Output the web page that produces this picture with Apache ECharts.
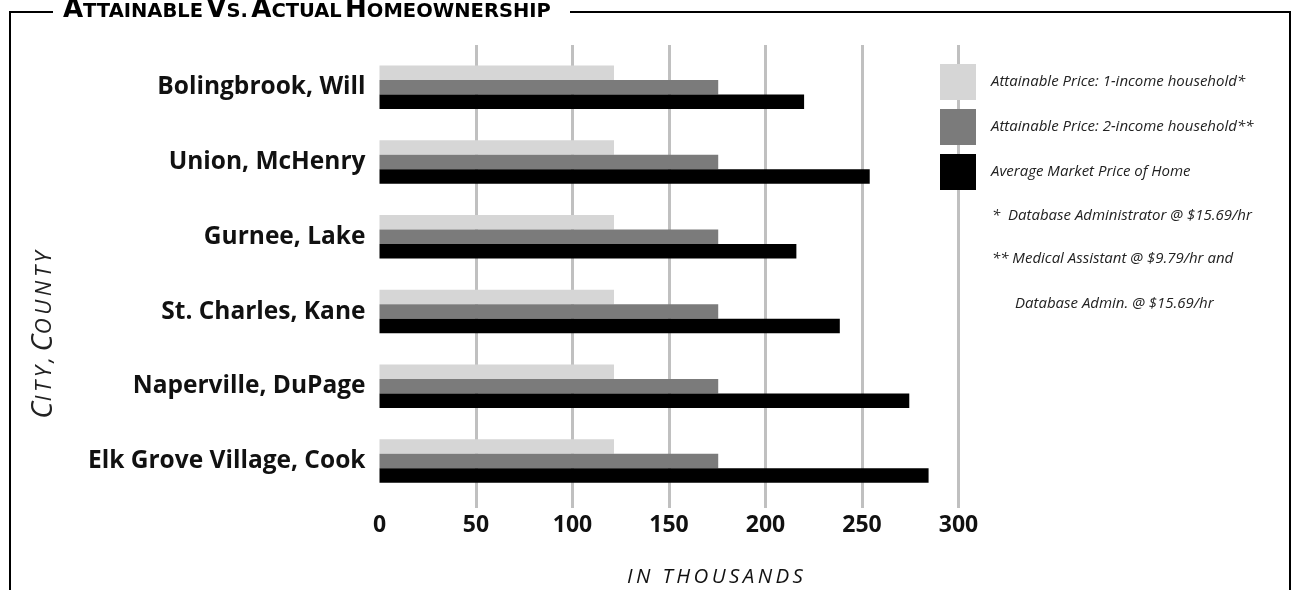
<!DOCTYPE html>
<html>
<head>
<meta charset="utf-8">
<script src="https://cdn.jsdelivr.net/npm/echarts@6/dist/echarts.min.js"></script>
<style>
html,body{margin:0;padding:0;background:#fff;}
#chart{width:1294px;height:590px;}
</style>
</head>
<body>
<div id="chart"></div>
<script>
// ---- data ----
const categories = ['Bolingbrook, Will', 'Union, McHenry', 'Gurnee, Lake', 'St. Charles, Kane', 'Naperville, DuPage', 'Elk Grove Village, Cook'];
const oneIncome = [121.5, 121.5, 121.5, 121.5, 121.5, 121.5];
const twoIncome = [175.5, 175.5, 175.5, 175.5, 175.5, 175.5];
const marketPrice = [220, 254, 216, 238.5, 274.5, 284.5];
const seriesNames = ['Attainable Price: 1-income household*', 'Attainable Price: 2-income household**', 'Average Market Price of Home'];
const axisMin = 0, axisMax = 300, axisStep = 50;
const footnotes = ['*  Database Administrator @ $15.69/hr', '** Medical Assistant @ $9.79/hr and', 'Database Admin. @ $15.69/hr'];

const FONT = 'Open Sans';
const TITLE_FONT = 'DejaVu Sans';
const colors = ['#d6d6d6', '#7b7b7b', '#000000'];
const chart = echarts.init(document.getElementById('chart'), null, {renderer: 'canvas'});

const T = '\u2009';
const option = {
  backgroundColor: '#fff',
  animation: false,
  grid: [
    {left: 379.5, right: 335.5, top: 45, bottom: 82, outerBoundsMode: 'none'},
    {left: 379.5, right: 335.5, top: 49.9, bottom: 91.5, outerBoundsMode: 'none'}
  ],
  xAxis: [
    {
      gridIndex: 0, type: 'value', min: axisMin, max: axisMax, interval: axisStep,
      axisLine: {show: false}, axisTick: {show: false},
      splitLine: {show: true, showMinLine: false, lineStyle: {color: '#c0c0c0', width: 3}},
      axisLabel: {margin: 6, color: '#111', fontFamily: FONT, fontWeight: 'bold', fontSize: 23},
      name: ['I','N',' ','T','H','O','U','S','A','N','D','S'].join(T),
      nameLocation: 'middle', nameGap: 59,
      nameTextStyle: {fontFamily: FONT, fontStyle: 'italic', fontSize: 20.5, color: '#111', padding: [0, 0, 0, 92]}
    },
    {gridIndex: 1, type: 'value', min: axisMin, max: axisMax, interval: axisStep, show: false}
  ],
  yAxis: [
    {gridIndex: 0, type: 'category', data: [''], show: false},
    {
      gridIndex: 1, type: 'category', data: categories, inverse: true,
      axisLine: {show: false}, axisTick: {show: false}, splitLine: {show: false},
      axisLabel: {margin: 14, color: '#111', fontFamily: FONT, fontWeight: 'bold', fontSize: 24.5}
    }
  ],
  legend: {
    orient: 'vertical', left: 940, top: 64, padding: 0,
    itemWidth: 36, itemHeight: 36, itemGap: 9, icon: 'rect',
    selectedMode: false,
    data: seriesNames,
    textStyle: {fontFamily: FONT, fontStyle: 'italic', fontSize: 15, color: '#222', padding: [0, 0, 0, 10]}
  },
  series: [oneIncome, twoIncome, marketPrice].map((d, i) => ({
    name: seriesNames[i], type: 'bar', xAxisIndex: 1, yAxisIndex: 1,
    data: d, barWidth: 14.5, barGap: '0%', silent: true,
    itemStyle: {color: colors[i]},
    emphasis: {disabled: true}
  })),
  graphic: [
    {type: 'line', shape: {x1: 9, y1: 12, x2: 53, y2: 12}, style: {stroke: '#000', lineWidth: 2}},
    {type: 'line', shape: {x1: 570, y1: 12, x2: 1291, y2: 12}, style: {stroke: '#000', lineWidth: 2}},
    {type: 'line', shape: {x1: 10, y1: 11, x2: 10, y2: 590}, style: {stroke: '#000', lineWidth: 2}},
    {type: 'line', shape: {x1: 1290, y1: 11, x2: 1290, y2: 590}, style: {stroke: '#000', lineWidth: 2}},
    {
      type: 'text', x: 63, y: 23,
      style: {
        text: '{b|A}{s|TTAINABLE} {b|V}{s|S.} {b|A}{s|CTUAL} {b|H}{s|OMEOWNERSHIP}',
        verticalAlign: 'bottom', fill: '#000',
        rich: {
          b: {fontFamily: TITLE_FONT, fontWeight: 'bold', fontSize: 26, lineHeight: 26, verticalAlign: 'bottom'},
          s: {fontFamily: TITLE_FONT, fontWeight: 'bold', fontSize: 19.5, lineHeight: 22, verticalAlign: 'bottom', padding: [0, 0, 1, 0]}
        }
      }
    },
    {
      type: 'text', x: 43, y: 335, rotation: Math.PI / 2,
      style: {
        text: '{b|C}{s|' + ['I','T','Y',','].join(T) + '}' + ' ' + T + '{b|C}{s|' + ['O','U','N','T','Y'].join(T) + '}',
        align: 'center', verticalAlign: 'middle', fill: '#222',
        rich: {
          b: {fontFamily: FONT, fontStyle: 'italic', fontSize: 29, lineHeight: 30, verticalAlign: 'bottom'},
          s: {fontFamily: FONT, fontStyle: 'italic', fontSize: 22, lineHeight: 24, verticalAlign: 'bottom', padding: [0, 0, 2, 0]}
        }
      }
    }
  ].concat(footnotes.map((t, i) => ({
    type: 'text', x: [992, 992, 1015][i], y: [216, 259, 304][i],
    style: {text: t, fontFamily: FONT, fontStyle: 'italic', fontSize: 15, fill: '#222', verticalAlign: 'middle'}
  })))
};
chart.setOption(option);
</script>
</body>
</html>
